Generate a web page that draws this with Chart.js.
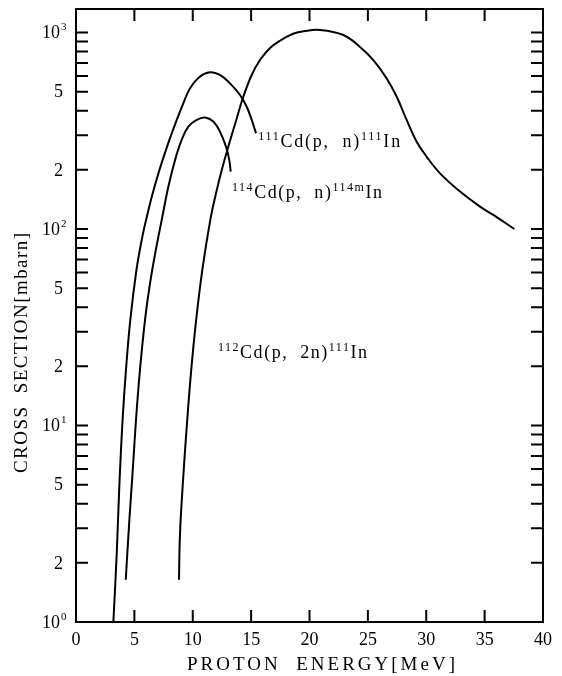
<!DOCTYPE html>
<html>
<head>
<meta charset="utf-8">
<script src="https://cdn.jsdelivr.net/npm/chart.js@4.4.1/dist/chart.umd.min.js"></script>
<style>
    html, body { margin: 0; padding: 0; background: #fff; }
    #wrap { width: 562px; height: 676px; }
</style>
</head>
<body>
<div id="wrap"><canvas id="xsChart" width="562" height="676"></canvas></div>

<script>
// excitation functions: energy [MeV], cross section [mbarn]
const cd111pnEnergy = [3.2, 3.49, 3.71, 3.99, 4.28, 4.65, 5.18, 5.63, 6.0, 6.53, 7.15, 8.0, 8.63, 9.19, 9.77,
                       10.6, 11.48, 12.33, 13.19, 14.05, 14.62, 15.05, 15.42];
const cd111pnSigma  = [1.0, 2.24, 4.9, 10.7, 19.2, 34.4, 62, 88, 111, 149, 200, 284, 359, 436, 520,
                       596, 627, 608, 551, 481, 419, 359, 307];

const cd114pnEnergy = [4.26, 4.57, 4.86, 5.14, 5.48, 5.91, 6.30, 6.78, 7.34, 7.91, 8.48, 9.05, 9.62,
                       10.34, 11.05, 11.76, 12.33, 12.85, 13.13, 13.25];
const cd114pnSigma  = [1.64, 3.3, 5.9, 10.7, 19.2, 34.4, 51, 75, 111, 164, 224, 284, 332,
                       359, 369, 352, 313, 262, 224, 196];

const cd112p2nEnergy = [8.82, 8.91, 9.19, 9.53, 9.87, 10.29, 10.82, 11.5, 11.96, 12.49, 13.09, 13.73,
                        14.33, 15.05, 15.76, 16.6, 17.47, 18.6, 19.5, 20.9, 22.9, 24.3, 25.47, 26.6,
                        27.47, 28.32, 29.18, 30.04, 31.18, 32.9, 34.6, 35.74, 37.54];
const cd112p2nSigma  = [1.64, 2.83, 5.5, 10.7, 19.2, 34.4, 62, 111, 149, 200, 268, 359,
                        471, 608, 724, 832, 908, 985, 1015, 1030, 971, 847, 724, 585,
                        471, 359, 278, 233, 192, 155, 130, 118, 100];

const xTickValues = [0, 5, 10, 15, 20, 25, 30, 35, 40];
const yTickValues = [1, 2, 3, 4, 5, 6, 7, 8, 9,
                     10, 20, 30, 40, 50, 60, 70, 80, 90,
                     100, 200, 300, 400, 500, 600, 700, 800, 900, 1000];
const yLabelValues = [1, 2, 5, 10, 20, 50, 100, 200, 500, 1000];
const yLabelTexts  = ['10^0', '2', '5', '10^1', '2', '5', '10^2', '2', '5', '10^3'];

const xTitle = 'PROTON  ENERGY[MeV]';
const yTitle = 'CROSS  SECTION[mbarn]';

// reaction labels: [text, superscript?] pieces, anchored at (MeV, mbarn) on the baseline
const reactionLabels = [
    [['111', true], ['Cd(p,  n)', false], ['111', true], ['In', false]],
    [['114', true], ['Cd(p,  n)', false], ['114m', true], ['In', false]],
    [['112', true], ['Cd(p,  2n)', false], ['111', true], ['In', false]]
];
const reactionLabelAt = [[15.6, 261], [13.36, 144], [12.16, 22]];
const reactionLabelWidth = [142, 150, 149];

function toPoints(xs, ys) {
    return xs.map((v, i) => ({x: v, y: ys[i]}));
}

const SERIF = '"Liberation Serif", "DejaVu Serif", serif';

function drawSpaced(ctx, text, x, y, width) {
    ctx.letterSpacing = '0px';
    const natural = ctx.measureText(text).width;
    const ls = Math.max(0, (width - natural) / (text.length - 1));
    ctx.letterSpacing = ls + 'px';
    ctx.fillText(text, x, y);
    ctx.letterSpacing = '0px';
}

const framePlugin = {
    id: 'framePlugin',
    beforeDraw(chart) {
        const ctx = chart.ctx;
        ctx.save();
        ctx.fillStyle = '#fff';
        ctx.fillRect(0, 0, chart.width, chart.height);
        ctx.restore();
    },
    afterDraw(chart) {
        const {ctx, chartArea: a} = chart;
        const xs = chart.scales.x, ys = chart.scales.y;
        ctx.save();
        ctx.strokeStyle = '#000';
        ctx.fillStyle = '#000';
        ctx.lineWidth = 2;
        ctx.strokeRect(a.left, a.top, a.right - a.left, a.bottom - a.top);

        // inward ticks on all four sides
        ctx.beginPath();
        xTickValues.forEach(v => {
            if (v === 0 || v === 40) return;
            const px = xs.getPixelForValue(v);
            ctx.moveTo(px, a.bottom); ctx.lineTo(px, a.bottom - 12);
            ctx.moveTo(px, a.top); ctx.lineTo(px, a.top + 12);
        });
        yTickValues.forEach(v => {
            const py = ys.getPixelForValue(v);
            ctx.moveTo(a.left, py); ctx.lineTo(a.left + 12, py);
            ctx.moveTo(a.right, py); ctx.lineTo(a.right - 12, py);
        });
        ctx.stroke();

        // tick labels
        ctx.font = '18px ' + SERIF;
        ctx.textBaseline = 'middle';
        ctx.textAlign = 'center';
        xTickValues.forEach(v => {
            ctx.fillText(String(v), xs.getPixelForValue(v), a.bottom + 18);
        });
        yLabelValues.forEach((v, i) => {
            const py = ys.getPixelForValue(v) + 1;
            const t = yLabelTexts[i];
            if (t.indexOf('^') >= 0) {
                const [base, exp] = t.split('^');
                ctx.font = '18px ' + SERIF;
                ctx.textAlign = 'right';
                ctx.fillText(base, a.left - 16, py);
                ctx.font = '11px ' + SERIF;
                ctx.textAlign = 'left';
                ctx.fillText(exp, a.left - 15, py - 6);
            } else {
                ctx.font = '18px ' + SERIF;
                ctx.textAlign = 'right';
                ctx.fillText(t, a.left - 13, py);
            }
        });

        // axis titles
        ctx.font = '19px ' + SERIF;
        ctx.textAlign = 'left';
        ctx.textBaseline = 'middle';
        drawSpaced(ctx, xTitle, 187, 665, 268);
        ctx.save();
        ctx.translate(22, 353);
        ctx.rotate(-Math.PI / 2);
        drawSpaced(ctx, yTitle, -120, 0, 240);
        ctx.restore();

        // reaction labels
        ctx.textBaseline = 'alphabetic';
        reactionLabels.forEach((parts, k) => {
            let natural = 0, chars = 0;
            parts.forEach(([t, sup]) => {
                ctx.font = (sup ? '12px ' : '18px ') + SERIF;
                natural += ctx.measureText(t).width;
                chars += t.length;
            });
            const ls = Math.max(0, (reactionLabelWidth[k] - natural) / (chars - 1));
            let px = xs.getPixelForValue(reactionLabelAt[k][0]);
            const base = ys.getPixelForValue(reactionLabelAt[k][1]);
            parts.forEach(([t, sup]) => {
                ctx.font = (sup ? '12px ' : '18px ') + SERIF;
                ctx.letterSpacing = '0px';
                const w = ctx.measureText(t).width;
                ctx.letterSpacing = ls + 'px';
                ctx.fillText(t, px, sup ? base - 7 : base);
                px += w + ls * t.length;
            });
            ctx.letterSpacing = '0px';
        });
        ctx.restore();
    }
};

const lineStyle = {
    borderColor: '#000',
    borderWidth: 2,
    pointRadius: 0,
    fill: false,
    tension: 0.4
};

new Chart(document.getElementById('xsChart').getContext('2d'), {
    type: 'line',
    data: {
        datasets: [
            Object.assign({label: '111Cd(p,n)111In', data: toPoints(cd111pnEnergy, cd111pnSigma)}, lineStyle),
            Object.assign({label: '114Cd(p,n)114mIn', data: toPoints(cd114pnEnergy, cd114pnSigma)}, lineStyle),
            Object.assign({label: '112Cd(p,2n)111In', data: toPoints(cd112p2nEnergy, cd112p2nSigma)}, lineStyle)
        ]
    },
    options: {
        responsive: false,
        animation: false,
        devicePixelRatio: 1,
        layout: {padding: {left: 76, top: 9, right: 19, bottom: 54}},
        plugins: {
            legend: {display: false},
            tooltip: {enabled: false}
        },
        scales: {
            x: {type: 'linear', min: 0, max: 40, display: false},
            y: {type: 'logarithmic', min: 1, max: 1317, display: false}
        }
    },
    plugins: [framePlugin]
});
</script>
</body>
</html>
